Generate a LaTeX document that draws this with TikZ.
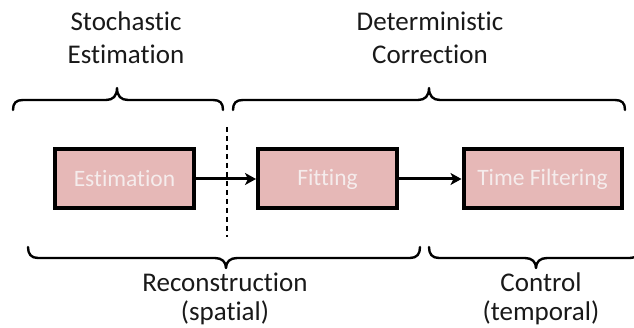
\documentclass[tikz,border=0pt]{standalone}
\usepackage{fontspec}
\setmainfont{Carlito}[Ligatures={NoCommon}]
\usetikzlibrary{arrows.meta}
\definecolor{boxfill}{HTML}{E6B8B7}
\definecolor{boxtext}{HTML}{F5ECEC}
\tikzset{
  stage/.style={draw=black, line width=4pt, fill=boxfill, minimum width=140pt, minimum height=60pt, inner sep=0pt,
    text=boxtext, font=\fontsize{23.5}{28}\selectfont},
  toplbl/.style={anchor=base, font=\fontsize{27}{33}\selectfont, text=black!90, inner sep=0pt},
  brc/.style={line width=2.4pt, line cap=round, line join=round},
  flow/.style={line width=3pt, -{Stealth[length=11pt,width=12pt,inset=3pt]}},
  sep/.style={line width=1.5pt, dash pattern=on 5pt off 4pt}
}
\begin{document}
\begin{tikzpicture}[x=1pt,y=-1pt]
\useasboundingbox (0,0) rectangle (634,328);
\clip (0,0) rectangle (634,328);
% labels
\node[toplbl] (s1) at (126,31) {Stochastic};
\node[toplbl] (s2) at (126,64) {Estimation};
\node[toplbl] (d1) at (430,31) {Deterministic};
\node[toplbl] (d2) at (430,64) {Correction};
\node[toplbl] (r1) at (225,292) {Reconstruction};
\node[toplbl] (r2) at (225,321) {(spatial)};
\node[toplbl] (c1) at (541,292) {Control};
\node[toplbl] (c2) at (541,321) {(temporal)};
% boxes
\node[stage, minimum width=139pt, minimum height=59pt] (est) at (124.5,179) {Estimation};
\node[stage, minimum width=139pt, minimum height=59pt] (fit) at (327.5,179) {Fitting};
\node[stage, minimum width=158pt, minimum height=59pt] (tf) at (542.5,179) {Time Filtering};
% separator
\coordinate (sepT) at (227,127);
\coordinate (sepB) at (227,237);
\draw[sep] (sepT) -- (sepB);
% arrows
\draw[flow] (est.east) -- (fit.west);
\draw[flow] (fit.east) -- (tf.west);
% top braces
\draw[brc] (13,110) .. controls (13,103) and (16,100) .. (23,100) -- (106,100)
  .. controls (113,100) and (117,96) .. (117,88) .. controls (117,96) and (121,100) .. (128,100)
  -- (213,100) .. controls (220,100) and (223,103) .. (223,110);
\draw[brc] (233,110) .. controls (233,103) and (236,100) .. (243,100) -- (418,100)
  .. controls (425,100) and (429,96) .. (429,88) .. controls (429,96) and (433,100) .. (440,100)
  -- (615,100) .. controls (622,100) and (625,103) .. (625,110);
% bottom braces
\draw[brc] (28,247) .. controls (28,254) and (31,258) .. (38,258) -- (215,258)
  .. controls (222,258) and (226,262) .. (226,268) .. controls (226,262) and (230,258) .. (237,258)
  -- (410,258) .. controls (417,258) and (420,254) .. (420,247);
\draw[brc] (429,247) .. controls (429,254) and (432,258) .. (439,258) -- (525,258)
  .. controls (532,258) and (536,262) .. (536,268) .. controls (536,262) and (540,258) .. (547,258)
  -- (630,258) .. controls (637,258) and (640,254) .. (640,247);
\end{tikzpicture}
\end{document}
